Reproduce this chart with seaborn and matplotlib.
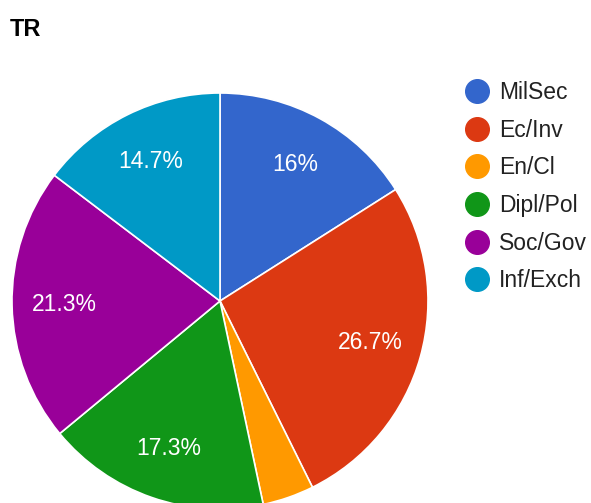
import matplotlib
matplotlib.use('Agg')
import matplotlib.pyplot as plt
from matplotlib.lines import Line2D
import seaborn as sns

title = 'TR'
categories = ['MilSec', 'Ec/Inv', 'En/Cl', 'Dipl/Pol', 'Soc/Gov', 'Inf/Exch']
counts = [12, 20, 3, 13, 16, 11]
colors = ['#3366cc', '#dc3912', '#ff9900', '#109618', '#990099', '#0099c6']

sns.set_theme(style='white')
plt.rcParams['font.family'] = ['Liberation Sans', 'DejaVu Sans']

W, H = 591, 503
fig = plt.figure(figsize=(W / 100, H / 100), dpi=100)
ax = fig.add_axes([0, 0, 1, 1])
ax.set_xlim(0, W)
ax.set_ylim(0, H)
ax.set_aspect('equal')
ax.axis('off')

pal = sns.color_palette(colors)


def pct(p):
    # google skips labels on thin slices
    return '' if p < 5 else ('%.1f%%' % p).replace('.0%', '%')


wedges, texts, autotexts = ax.pie(
    counts, colors=pal, startangle=90, counterclock=False,
    center=(220, H - 301), radius=208, autopct=pct, pctdistance=0.75,
    wedgeprops=dict(edgecolor='white', linewidth=1.2),
    textprops=dict(color='white', fontsize=16.5))
ax.set_xlim(0, W)
ax.set_ylim(0, H)

fig.text(10 / W, 1 - 30 / H, title, fontsize=17, fontweight='bold',
         color='#000000', va='center', ha='left')

handles = [Line2D([], [], marker='o', linestyle='', markersize=17,
                  markerfacecolor=c, markeredgecolor=c) for c in pal]
leg = ax.legend(handles, categories, loc='upper left',
                bbox_to_anchor=(466 / W, 1 - 81 / H), frameon=False,
                fontsize=16.5, labelspacing=0.64, handlelength=1.0,
                handletextpad=0.45, borderpad=0, borderaxespad=0)
for t in leg.get_texts():
    t.set_color('#222222')

fig.savefig('out.png', dpi=100)
